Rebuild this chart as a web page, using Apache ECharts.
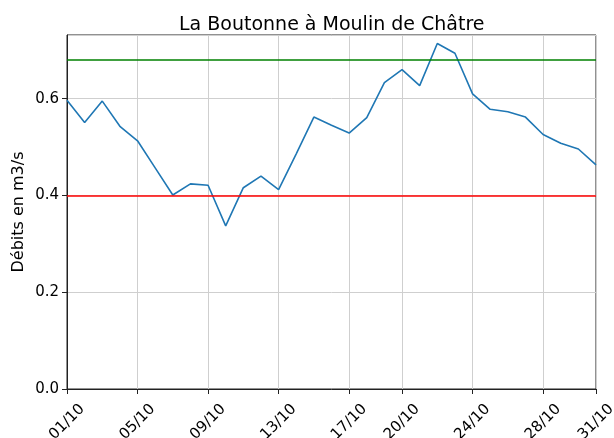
<!DOCTYPE html>
<html lang="fr">
<head>
    <meta charset="UTF-8">
    <script src="https://cdn.jsdelivr.net/npm/echarts@6/dist/echarts.min.js"></script>
    <style>
        html,body{margin:0;padding:0;background:#fff}
        #chart{width:614px;height:438px}
    </style>
    <title>La Boutonne</title>
</head>
<body>
<div id="chart"></div>
<script>
// jours d'octobre
var days = ['01/10','02/10','03/10','04/10','05/10','06/10','07/10','08/10','09/10','10/10',
    '11/10','12/10','13/10','14/10','15/10','16/10','17/10','18/10','19/10','20/10',
    '21/10','22/10','23/10','24/10','25/10','26/10','27/10','28/10','29/10','30/10','31/10'];
// debits journaliers (m3/s)
var debits = [0.597,0.551,0.595,0.543,0.513,0.457,0.401,0.424,0.421,0.337,
    0.416,0.440,0.412,0.486,0.562,0.545,0.529,0.561,0.633,0.660,
    0.627,0.714,0.694,0.610,0.578,0.573,0.562,0.526,0.508,0.496,0.463];
// seuils
var seuilBas = 0.4;
var seuilHaut = 0.68;
// dates affichees sur l'axe
var shownTicks = ['01/10','05/10','09/10','13/10','17/10','20/10','24/10','28/10','31/10'];
var yTicks = [0, 0.2, 0.4, 0.6];

var font = 'DejaVu Sans';
function showDay(i){ return shownTicks.indexOf(days[i]) >= 0; }

var ec = echarts.init(document.getElementById('chart'));
ec.setOption({
    animation: false,
    title: {
        text: 'La Boutonne à Moulin de Châtre',
        left: 179,
        top: 16,
        padding: 0,
        textStyle: {fontFamily: font, fontSize: 19, fontWeight: 'normal', color: '#000'}
    },
    grid: {
        left: 67, right: 18, top: 35, bottom: 49,
        outerBoundsMode: 'none',
        containLabel: false,
        show: true, borderColor: '#222', borderWidth: 1, backgroundColor: 'transparent'
    },
    xAxis: {
        type: 'category',
        data: days,
        boundaryGap: false,
        axisLine: {lineStyle: {color: '#222', width: 1}},
        axisTick: {interval: function(i){ return showDay(i); }, length: 5, lineStyle: {color: '#222'}},
        splitLine: {show: true, interval: function(i){ return showDay(i); }, lineStyle: {color: '#cfcfcf', width: 1}},
        axisLabel: {
            interval: function(i){ return showDay(i); },
            rotate: 45,
            align: 'center',
            verticalAlign: 'middle',
            margin: 33,
            hideOverlap: false,
            fontFamily: font, fontSize: 15, color: '#000'
        }
    },
    yAxis: {
        type: 'value',
        min: 0,
        max: 0.7316,
        interval: 0.2,
        name: 'Débits en m3/s',
        nameLocation: 'middle',
        nameGap: 40,
        nameMoveOverlap: false,
        nameTextStyle: {fontFamily: font, fontSize: 16, color: '#000'},
        axisLine: {show: true, lineStyle: {color: '#222', width: 1}},
        axisTick: {show: true, length: 5, lineStyle: {color: '#222'}},
        splitLine: {show: true, lineStyle: {color: '#cfcfcf', width: 1}},
        axisLabel: {
            margin: 8,
            fontFamily: font, fontSize: 15, color: '#000',
            showMaxLabel: false,
            formatter: function(v){
                for (var k = 0; k < yTicks.length; k++) {
                    if (Math.abs(v - yTicks[k]) < 1e-6) return yTicks[k].toFixed(1);
                }
                return '';
            }
        }
    },
    series: [{
        type: 'line',
        data: debits,
        symbol: 'none',
        lineStyle: {color: '#1f77b4', width: 1.6},
        markLine: {
            silent: true,
            symbol: 'none',
            label: {show: false},
            data: [
                {yAxis: seuilHaut, lineStyle: {color: '#008000', width: 1.5, type: 'solid'}},
                {yAxis: seuilBas, lineStyle: {color: '#ff0000', width: 1.5, type: 'solid'}}
            ]
        }
    }]
});
</script>
</body>
</html>
